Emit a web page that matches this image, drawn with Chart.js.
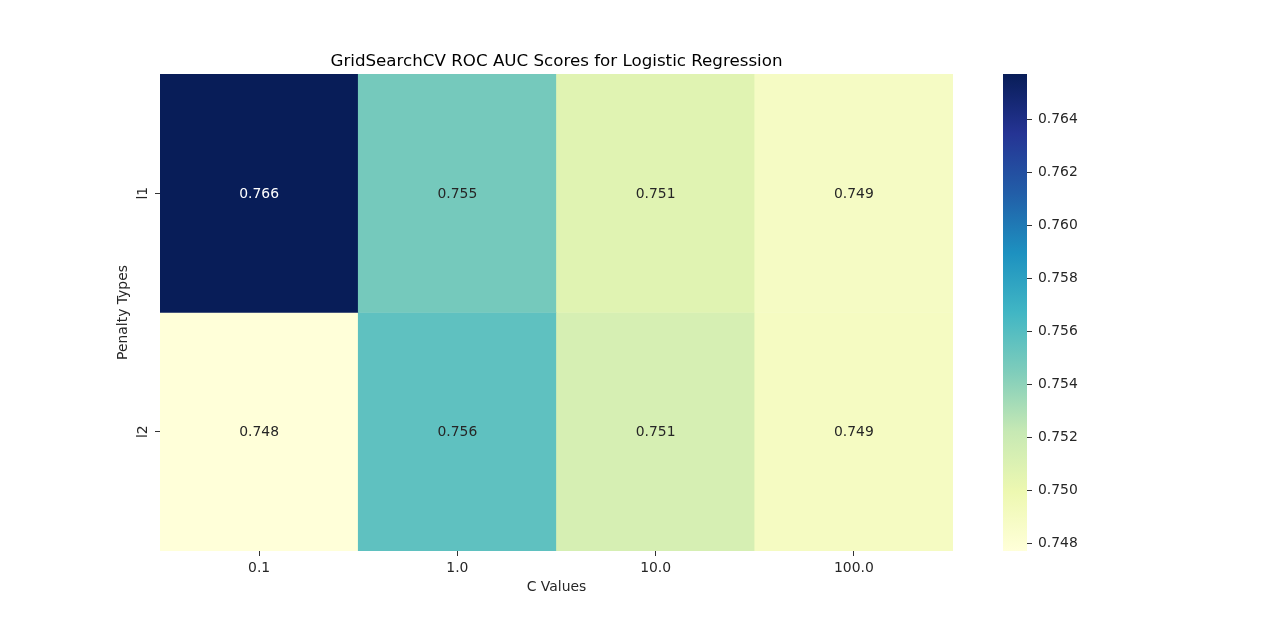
<!DOCTYPE html>
<html>
<head>
<meta charset="utf-8">
<script src="https://cdn.jsdelivr.net/npm/chart.js@4.4.1/dist/chart.umd.min.js"></script>
<style>
  html, body { margin: 0; padding: 0; background: #fff; }
  #wrap { position: relative; width: 1280px; height: 620px; }
  #heat-box { position: absolute; left: 0; top: 0; width: 990px; height: 620px; }
  #bar-box { position: absolute; left: 980px; top: 0; width: 300px; height: 620px; }
</style>
</head>
<body>
<div id="wrap">
  <div id="heat-box"><canvas id="chart-heat"></canvas></div>
  <div id="bar-box"><canvas id="chart-cbar"></canvas></div>
</div>
<script>
// Grid search results (rows = penalty, columns = C)
const cValues = ['0.1', '1.0', '10.0', '100.0'];
const penalties = ['l1', 'l2'];
const scoresL1 = [0.7657, 0.7548, 0.7507, 0.7489];
const scoresL2 = [0.7477, 0.7556, 0.7513, 0.7490];
const cbarTicks = [0.748, 0.750, 0.752, 0.754, 0.756, 0.758, 0.760, 0.762, 0.764];

// YlGnBu colormap anchors
const ylgnbu = ['#ffffd9', '#edf8b1', '#c7e9b4', '#7fcdbb', '#41b6c4', '#1d91c0', '#225ea8', '#253494', '#081d58'];

const allScores = scoresL1.concat(scoresL2);
const vmin = Math.min(...allScores);
const vmax = Math.max(...allScores);

const FONT = "'DejaVu Sans', sans-serif";
const TICK_PX = 13.9;

function hexToRgb(h) {
  return [parseInt(h.slice(1, 3), 16), parseInt(h.slice(3, 5), 16), parseInt(h.slice(5, 7), 16)];
}

function colorFor(v) {
  let t = (v - vmin) / (vmax - vmin);
  t = Math.max(0, Math.min(1, t));
  const pos = t * (ylgnbu.length - 1);
  const i = Math.min(Math.floor(pos), ylgnbu.length - 2);
  const f = pos - i;
  const a = hexToRgb(ylgnbu[i]);
  const b = hexToRgb(ylgnbu[i + 1]);
  const c = a.map((x, k) => Math.round(x + (b[k] - x) * f));
  return { css: `rgb(${c[0]},${c[1]},${c[2]})`, rgb: c };
}

function textColorFor(v) {
  const c = colorFor(v).rgb.map(x => {
    x = x / 255;
    return x <= 0.03928 ? x / 12.92 : Math.pow((x + 0.055) / 1.055, 2.4);
  });
  const lum = 0.2126 * c[0] + 0.7152 * c[1] + 0.0722 * c[2];
  return lum > 0.408 ? '#262626' : '#ffffff';
}

const rowScores = [scoresL1, scoresL2];
const nRows = penalties.length;

const datasets = penalties.map((p, r) => ({
  label: p,
  data: rowScores[r].map(() => [nRows - 1 - r, nRows - r]),
  scores: rowScores[r],
  backgroundColor: rowScores[r].map(v => colorFor(v).css),
  borderWidth: 0,
  barPercentage: 1.0,
  categoryPercentage: 1.0,
  grouped: false
}));

// Draws cell annotations, rotated y labels, axis titles and chart title
const heatDecor = {
  id: 'heatDecor',
  afterDatasetsDraw(chart) {
    const ctx = chart.ctx;
    const area = chart.chartArea;
    ctx.save();
    ctx.font = `${TICK_PX}px ${FONT}`;
    ctx.textAlign = 'center';
    ctx.textBaseline = 'middle';
    chart.data.datasets.forEach((ds, di) => {
      chart.getDatasetMeta(di).data.forEach((bar, j) => {
        const v = ds.scores[j];
        const c = bar.getCenterPoint();
        ctx.fillStyle = textColorFor(v);
        ctx.fillText(v.toFixed(3), c.x, c.y + 1);
      });
    });

    // y tick labels, rotated
    const ys = chart.scales.y;
    ctx.fillStyle = '#262626';
    ys.ticks.forEach((t, i) => {
      const y = ys.getPixelForValue(t.value);
      ctx.save();
      ctx.translate(area.left - 17, y);
      ctx.rotate(-Math.PI / 2);
      ctx.fillText(penalties[i], 0, 0);
      ctx.restore();
    });

    // axis titles
    ctx.fillText('C Values', (area.left + area.right) / 2, 587);
    ctx.save();
    ctx.translate(123, (area.top + area.bottom) / 2);
    ctx.rotate(-Math.PI / 2);
    ctx.fillText('Penalty Types', 0, 0);
    ctx.restore();

    // title
    ctx.font = `16.7px ${FONT}`;
    ctx.fillStyle = '#000';
    ctx.textBaseline = 'alphabetic';
    ctx.fillText('GridSearchCV ROC AUC Scores for Logistic Regression', (area.left + area.right) / 2, 66);
    ctx.restore();
  }
};

new Chart(document.getElementById('chart-heat'), {
  type: 'bar',
  data: { labels: cValues, datasets: datasets },
  options: {
    responsive: true,
    maintainAspectRatio: false,
    animation: false,
    layout: { padding: { left: 120, right: 37, top: 74, bottom: 19 } },
    plugins: { legend: { display: false }, tooltip: { enabled: false } },
    scales: {
      x: {
        type: 'category',
        offset: true,
        grid: { offset: false, drawOnChartArea: false, drawTicks: true, tickLength: 5, color: '#333', lineWidth: 1 },
        border: { display: false },
        ticks: { color: '#262626', font: { family: FONT, size: TICK_PX }, padding: 4, maxRotation: 0 },
        afterFit(scale) { scale.height = 50; }
      },
      y: {
        type: 'linear',
        min: 0,
        max: nRows,
        grid: { drawOnChartArea: false, drawTicks: true, tickLength: 5, color: '#333', lineWidth: 1 },
        border: { display: false },
        ticks: { display: false },
        afterBuildTicks(scale) {
          scale.ticks = penalties.map((p, i) => ({ value: nRows - i - 0.5 }));
        },
        afterFit(scale) { scale.width = 40; }
      }
    }
  },
  plugins: [heatDecor]
});

// Colorbar
new Chart(document.getElementById('chart-cbar'), {
  type: 'bar',
  data: {
    labels: [''],
    datasets: [{
      data: [[vmin, vmax]],
      borderWidth: 0,
      barPercentage: 1.0,
      categoryPercentage: 1.0,
      backgroundColor(context) {
        const area = context.chart.chartArea;
        if (!area) return '#ccc';
        const g = context.chart.ctx.createLinearGradient(0, area.bottom, 0, area.top);
        ylgnbu.forEach((c, i) => g.addColorStop(i / (ylgnbu.length - 1), c));
        return g;
      }
    }]
  },
  options: {
    responsive: true,
    maintainAspectRatio: false,
    animation: false,
    layout: { padding: { left: 23, right: 193, top: 74, bottom: 69 } },
    plugins: { legend: { display: false }, tooltip: { enabled: false } },
    scales: {
      x: { display: false },
      y: {
        position: 'right',
        min: vmin,
        max: vmax,
        grid: { drawOnChartArea: false, drawTicks: true, tickLength: 5, color: '#333', lineWidth: 1 },
        border: { display: false },
        ticks: {
          color: '#262626',
          font: { family: FONT, size: TICK_PX },
          padding: 6,
          callback: v => v.toFixed(3)
        },
        afterBuildTicks(scale) {
          scale.ticks = cbarTicks.map(v => ({ value: v }));
        },
        afterFit(scale) { scale.width = 60; }
      }
    }
  }
});
</script>
</body>
</html>
